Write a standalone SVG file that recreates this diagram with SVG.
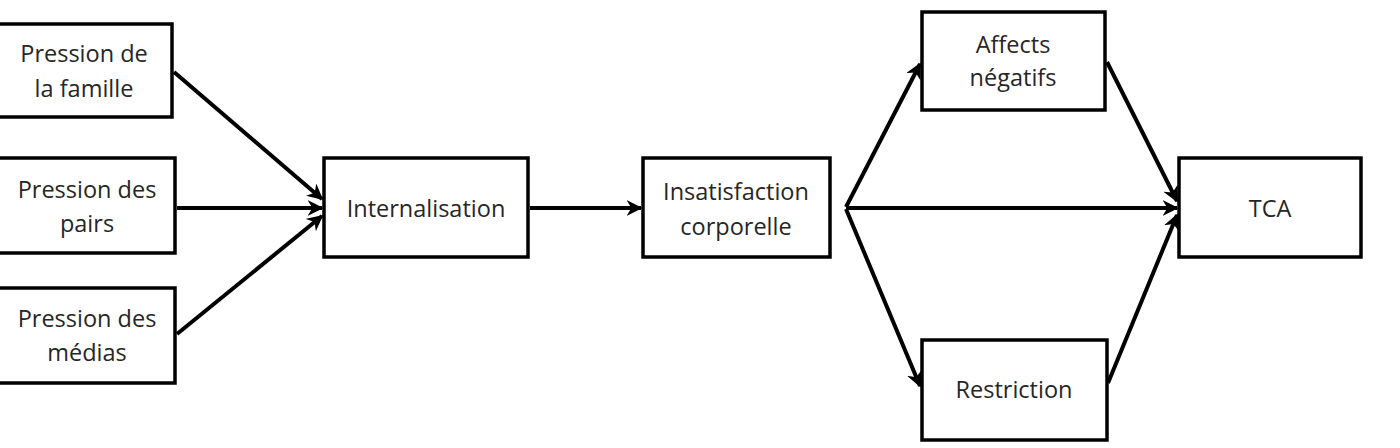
<svg xmlns="http://www.w3.org/2000/svg" width="1400" height="448" viewBox="0 0 1400 448">
<style>
.box{fill:#fff;stroke:#000;stroke-width:3.5}
.t{font-family:"Open Sans","Liberation Sans",sans-serif;font-size:23.5px;fill:#262626;text-anchor:middle}
.c{stroke:#000;stroke-width:4;fill:none;marker-end:url(#ah)}
</style>
<defs>
<marker id="ah" viewBox="0 0 10 10" refX="9" refY="5" markerWidth="4" markerHeight="4" orient="auto" markerUnits="strokeWidth">
<path d="M0,0 L10,5 L0,10 L3,5 Z" fill="#000"/>
</marker>
</defs>
<g id="n1"><rect class="box" x="-2" y="24" width="174" height="93"/><text class="t" x="84" y="62">Pression de</text><text class="t" x="84" y="97">la famille</text></g>
<g id="n2"><rect class="box" x="-2" y="158" width="177" height="95"/><text class="t" x="87" y="198">Pression des</text><text class="t" x="87" y="232">pairs</text></g>
<g id="n3"><rect class="box" x="-2" y="288" width="177" height="95"/><text class="t" x="87" y="327">Pression des</text><text class="t" x="87" y="361">médias</text></g>
<g id="n4"><rect class="box" x="324" y="158" width="204" height="99"/><text class="t" x="426" y="217">Internalisation</text></g>
<g id="n5"><rect class="box" x="643" y="158" width="187" height="99"/><text class="t" x="736" y="200">Insatisfaction</text><text class="t" x="736" y="235">corporelle</text></g>
<g id="n6"><rect class="box" x="922" y="12" width="183" height="98"/><text class="t" x="1013" y="53">Affects</text><text class="t" x="1013" y="86">négatifs</text></g>
<g id="n7"><rect class="box" x="922" y="340" width="185" height="100"/><text class="t" x="1014" y="398">Restriction</text></g>
<g id="n8"><rect class="box" x="1179" y="158" width="182" height="99"/><text class="t" x="1270" y="217">TCA</text></g>
<g id="connectors">
<line class="c" x1="174" y1="72" x2="322" y2="199"/>
<line class="c" x1="177" y1="208" x2="322" y2="208"/>
<line class="c" x1="177" y1="334" x2="322" y2="216"/>
<line class="c" x1="530" y1="208" x2="641" y2="208"/>
<line class="c" x1="846" y1="207" x2="920" y2="64"/>
<line class="c" x1="846" y1="208" x2="1177" y2="208"/>
<line class="c" x1="846" y1="209" x2="920" y2="386"/>
<line class="c" x1="1107" y1="62" x2="1177" y2="201"/>
<line class="c" x1="1108" y1="383" x2="1177" y2="215"/>
</g>
</svg>
